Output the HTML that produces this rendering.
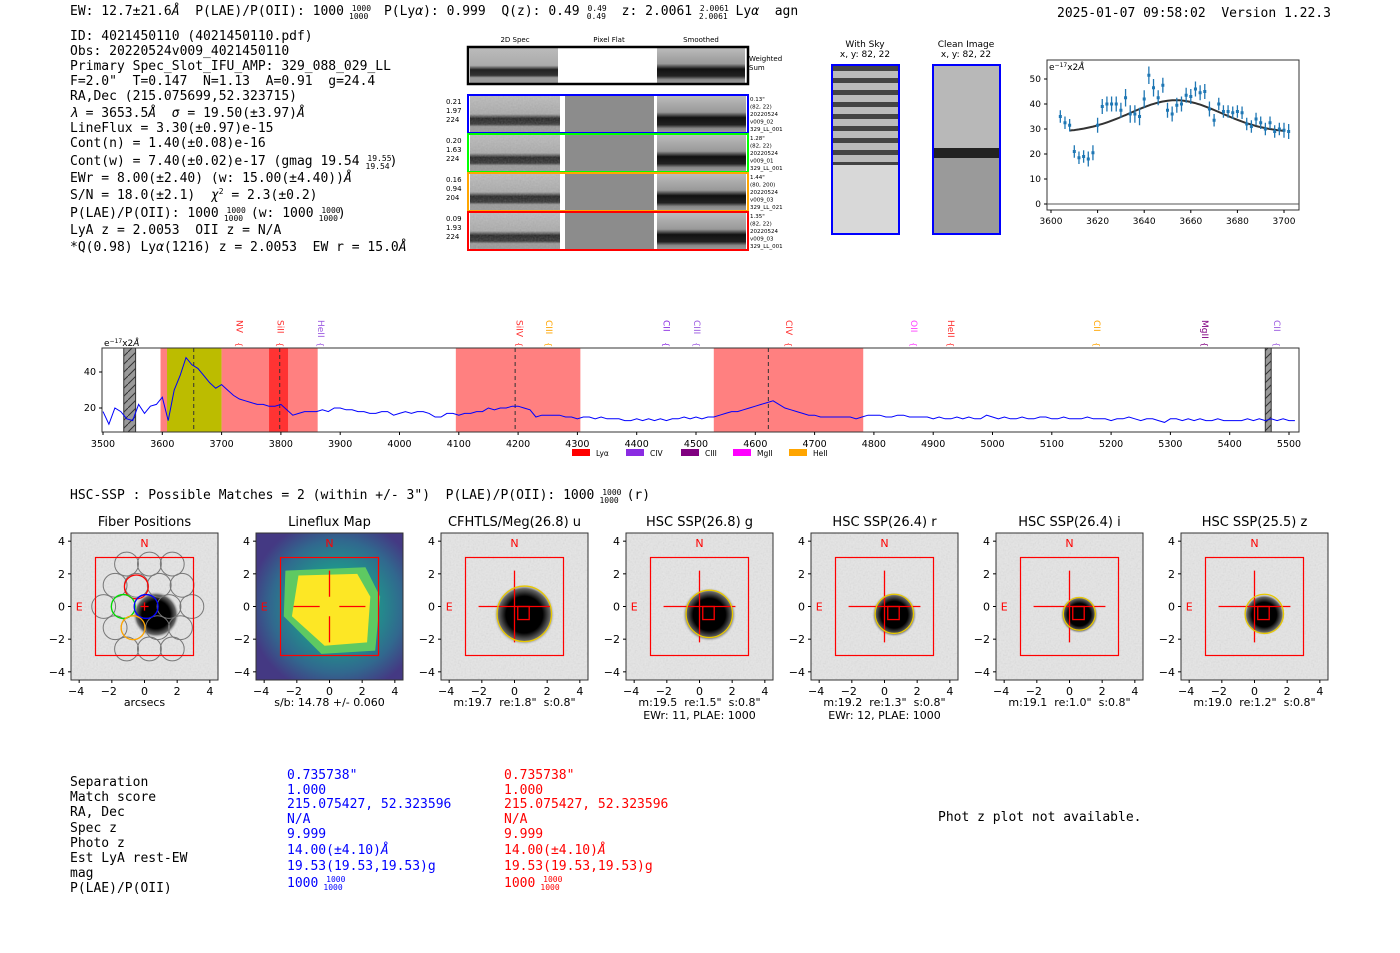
<!DOCTYPE html>
<html><head><meta charset="utf-8"><style>
html,body{margin:0;padding:0;background:#fff;}
svg{display:block;font-family:"DejaVu Sans","Liberation Sans",sans-serif;}
text{white-space:pre;}
.mono{font-family:"DejaVu Sans Mono","Liberation Mono",monospace;font-size:13px;}
</style></head><body>
<svg id="root" width="1400" height="953" viewBox="0 0 1400 953" xmlns="http://www.w3.org/2000/svg" xml:space="preserve">
<defs>
<linearGradient id="band" x1="0" y1="0" x2="0" y2="1">
<stop offset="0" stop-color="#bbb"/><stop offset="0.5" stop-color="#aaa"/><stop offset="0.62" stop-color="#222"/><stop offset="0.78" stop-color="#333"/><stop offset="0.85" stop-color="#999"/><stop offset="1" stop-color="#999"/></linearGradient>
<linearGradient id="bandS" x1="0" y1="0" x2="0" y2="1">
<stop offset="0" stop-color="#bbb"/><stop offset="0.45" stop-color="#999"/><stop offset="0.6" stop-color="#111"/><stop offset="0.8" stop-color="#222"/><stop offset="0.9" stop-color="#888"/><stop offset="1" stop-color="#999"/></linearGradient>
<pattern id="hatch" width="8" height="8" patternUnits="userSpaceOnUse"><rect width="8" height="8" fill="#999"/><path d="M0 8 L8 0" stroke="#333" stroke-width="1"/></pattern>
<pattern id="stripes" width="10" height="12" patternUnits="userSpaceOnUse"><rect width="10" height="12" fill="#bbb"/><rect y="6" width="10" height="5" fill="#444"/></pattern>
<radialGradient id="blob"><stop offset="0" stop-color="#000"/><stop offset="0.6" stop-color="#000"/><stop offset="0.85" stop-color="#666"/><stop offset="1" stop-color="#ddd" stop-opacity="0"/></radialGradient>
<radialGradient id="vir" cx="0.55" cy="0.5" r="0.6"><stop offset="0" stop-color="#35b779"/><stop offset="0.45" stop-color="#21918c"/><stop offset="0.75" stop-color="#31688e"/><stop offset="1" stop-color="#443983"/></radialGradient>
<filter id="grain" x="0" y="0" width="1" height="1"><feTurbulence type="fractalNoise" baseFrequency="0.6" numOctaves="1" result="n"/><feColorMatrix type="saturate" values="0"/><feComponentTransfer><feFuncA type="linear" slope="0.25"/></feComponentTransfer></filter>
</defs>

<text class="mono" x="70" y="15">EW: 12.7±21.6<tspan font-style="italic">Å</tspan>  P(LAE)/P(OII): 1000 <tspan font-size="8" dy="-4">1000</tspan><tspan font-size="8" dx="-22" dy="8">1000</tspan><tspan dy="-4">  P(Ly</tspan><tspan font-style="italic">α</tspan>): 0.999  Q(z): 0.49 <tspan font-size="8" dy="-4">0.49</tspan><tspan font-size="8" dx="-20" dy="8">0.49</tspan><tspan dy="-4">  z: 2.0061 </tspan><tspan font-size="8" dy="-4">2.0061</tspan><tspan font-size="8" dx="-30" dy="8">2.0061</tspan><tspan dy="-4"> Ly</tspan><tspan font-style="italic">α</tspan>  agn</text>
<text class="mono" x="1057" y="17">2025-01-07 09:58:02  Version 1.22.3</text>

<g class="mono">
<text x="70" y="40">ID: 4021450110 (4021450110.pdf)</text>
<text x="70" y="55">Obs: 20220524v009_4021450110</text>
<text x="70" y="70">Primary Spec_Slot_IFU_AMP: 329_088_029_LL</text>
<text x="70" y="85">F=2.0"  T=0.147  N=1.13  A=0.91  g=24.4</text>
<text x="70" y="100">RA,Dec (215.075699,52.323715)</text>
<text x="70" y="117"><tspan font-style="italic">λ</tspan> = 3653.5<tspan font-style="italic">Å</tspan>  <tspan font-style="italic">σ</tspan> = 19.50(±3.97)<tspan font-style="italic">Å</tspan></text>
<text x="70" y="132">LineFlux = 3.30(±0.97)e-15</text>
<text x="70" y="147">Cont(n) = 1.40(±0.08)e-16</text>
<text x="70" y="165">Cont(w) = 7.40(±0.02)e-17 (gmag 19.54 <tspan font-size="8" dy="-4">19.55</tspan><tspan font-size="8" dx="-26" dy="8">19.54</tspan><tspan dy="-4">)</tspan></text>
<text x="70" y="182">EWr = 8.00(±2.40) (w: 15.00(±4.40))<tspan font-style="italic">Å</tspan></text>
<text x="70" y="199">S/N = 18.0(±2.1)  <tspan font-style="italic">χ</tspan><tspan font-size="8" dy="-5">2</tspan><tspan dy="5"> = 2.3(±0.2)</tspan></text>
<text x="70" y="217">P(LAE)/P(OII): 1000 <tspan font-size="8" dy="-4">1000</tspan><tspan font-size="8" dx="-22" dy="8">1000</tspan><tspan dy="-4"> (w: 1000 </tspan><tspan font-size="8" dy="-4">1000</tspan><tspan font-size="8" dx="-22" dy="8">1000</tspan><tspan dy="-4">)</tspan></text>
<text x="70" y="234">LyA z = 2.0053  OII z = N/A</text>
<text x="70" y="251">*Q(0.98) Ly<tspan font-style="italic">α</tspan>(1216) z = 2.0053  EW r = 15.0<tspan font-style="italic">Å</tspan></text>
</g>

<g font-size="7">
<text x="515" y="42" text-anchor="middle">2D Spec</text>
<text x="609" y="42" text-anchor="middle">Pixel Flat</text>
<text x="701" y="42" text-anchor="middle">Smoothed</text>
<g>
<rect x="470" y="48" width="88" height="35" fill="url(#band)"/>
<rect x="657" y="48" width="88" height="35" fill="url(#bandS)"/>
<rect x="468" y="47" width="280" height="37" fill="none" stroke="#000" stroke-width="2.5"/>
<text x="749" y="61">Weighted</text><text x="749" y="70">Sum</text>
</g>
</g>
<g id="spec-rows"></g>

<g font-size="9">
<text x="865" y="47" text-anchor="middle">With Sky</text>
<text x="865" y="57" text-anchor="middle">x, y: 82, 22</text>
<rect x="832" y="65" width="67" height="100" fill="url(#stripes)"/>
<rect x="832" y="165" width="67" height="69" fill="#d8d8d8"/>
<rect x="832" y="65" width="67" height="169" fill="none" stroke="#00f" stroke-width="2"/>
<text x="966" y="47" text-anchor="middle">Clean Image</text>
<text x="966" y="57" text-anchor="middle">x, y: 82, 22</text>
<rect x="933" y="65" width="67" height="85" fill="#b8b8b8"/>
<rect x="933" y="148" width="67" height="10" fill="#222"/>
<rect x="933" y="158" width="67" height="76" fill="#9a9a9a"/>
<rect x="933" y="65" width="67" height="169" fill="none" stroke="#00f" stroke-width="2"/>
</g>

<g id="fitchart"></g>
<g id="specchart"></g>

<text class="mono" x="70" y="499">HSC-SSP : Possible Matches = 2 (within +/- 3")  P(LAE)/P(OII): 1000 <tspan font-size="8" dy="-4">1000</tspan><tspan font-size="8" dx="-22" dy="8">1000</tspan><tspan dy="-4"> (r)</tspan></text>

<g id="cutouts"></g>

<g class="mono">
<text x="70" y="786">Separation</text><text x="70" y="801">Match score</text><text x="70" y="816">RA, Dec</text><text x="70" y="832">Spec z</text><text x="70" y="847">Photo z</text><text x="70" y="862">Est LyA rest-EW</text><text x="70" y="877">mag</text><text x="70" y="892">P(LAE)/P(OII)</text>
<g fill="#0000ff">
<text x="287" y="779">0.735738"</text><text x="287" y="794">1.000</text><text x="287" y="808">215.075427, 52.323596</text><text x="287" y="823">N/A</text><text x="287" y="838">9.999</text><text x="287" y="854">14.00(±4.10)<tspan font-style="italic">Å</tspan></text><text x="287" y="870">19.53(19.53,19.53)g</text><text x="287" y="887">1000 <tspan font-size="8" dy="-5">1000</tspan><tspan font-size="8" dx="-22" dy="8">1000</tspan></text>
</g>
<g fill="#ff0000">
<text x="504" y="779">0.735738"</text><text x="504" y="794">1.000</text><text x="504" y="808">215.075427, 52.323596</text><text x="504" y="823">N/A</text><text x="504" y="838">9.999</text><text x="504" y="854">14.00(±4.10)<tspan font-style="italic">Å</tspan></text><text x="504" y="870">19.53(19.53,19.53)g</text><text x="504" y="887">1000 <tspan font-size="8" dy="-5">1000</tspan><tspan font-size="8" dx="-22" dy="8">1000</tspan></text>
</g>
<text x="938" y="821">Phot z plot not available.</text>
</g>
</svg>
<script>
var NS='http://www.w3.org/2000/svg';
function mk(tag,at,parent){var e=document.createElementNS(NS,tag);for(var k in at)e.setAttribute(k,at[k]);if(parent)parent.appendChild(e);return e;}

var fitWave=[3604,3606,3608,3610,3612,3614,3616,3618,3620,3622,3624,3626,3628,3630,3632,3634,3636,3638,3640,3642,3644,3646,3648,3650,3652,3654,3656,3658,3660,3662,3664,3666,3668,3670,3672,3674,3676,3678,3680,3682,3684,3686,3688,3690,3692,3694,3696,3698,3700,3702];
var fitFlux=[35,32.5,31.5,21,18.5,19,18,20.5,31.5,39,40,40,40,37.5,42.5,36,36,35,42,51.5,46.5,42.5,47.5,37.5,36,39.5,40,43.5,43,46,44.5,45,38,33.5,40,37,37,36.5,37,36.5,32,31,34,32.5,30,32.5,29,30,29.5,29];
var fitErr=[2.5,2.5,2.5,2.5,2.5,2.5,3,3,3,3,3,3,3,3,3.5,3.5,3.5,3.5,3.5,3.5,3.5,3,3,3,3,3,3,3,3,3,3,3,3,2.5,2.5,2.5,2.5,2.5,2.5,2.5,2.5,2.5,2.5,2.5,2.5,2.5,2.5,2.5,3,3];
var fitModel={cont:28.5,amp:13,mu:3653.5,sigma:19.5};
var fitXTicks=[3600,3620,3640,3660,3680,3700];
var fitYTicks=[0,10,20,30,40,50];

var specStart=3500, specStep=10;
var specFlux=[18,11,20,18,14,13,22,17,21,22,
26,13,30,38,48,44,42,38,34,31,
33,30,27,25,24,23,22,22,21,21,
22,19,16,17,18,18,18,19,18,20,
20,19,19,18,18,17,17,18,18,16,
17,18,17,18,18,17,15,15,17,17,
16,17,17,18,18,20,19,20,20,21,
21,20,19,15,16,16,16,16,15,15,
14,15,15,14,15,14,14,14,13,13,
14,13,14,13,14,13,14,14,15,14,
15,14,15,15,16,17,18,18,19,20,
21,22,23,24,22,20,19,18,17,16,
16,15,15,15,15,15,15,14,15,16,
16,16,15,15,16,16,15,15,15,15,
14,15,14,14,15,14,15,14,14,16,
15,14,15,14,14,15,14,14,15,15,
14,14,15,14,14,14,15,14,14,14,
13,14,14,15,14,13,14,14,13,12,
14,14,13,14,13,14,13,13,14,13,
13,13,13,14,13,14,13,14,13,14,13,13,13];
var specXTicks=[3500,3600,3700,3800,3900,4000,4100,4200,4300,4400,4500,4600,4700,4800,4900,5000,5100,5200,5300,5400,5500];
var specYTicks=[20,40];
var bandStart=[3535,3597,3608,3700,3780,4095,4530,5460];
var bandEnd=[3555,3700,3700,3862,3812,4305,4782,5470];
var bandKind=['mask','lya','fit','lya','line','lya','lya','mask'];
var dashWave=[3653,3798,4195,4622];
var lineName=['NV','SiII','HeII','SiIV','CIII','CII','CIII','CIV','OII','HeII','CII','MgII','CII'];
var lineWave=[3730,3799,3868,4202,4252,4450,4502,4657,4868,4930,5176,5358,5480];
var lineColor=['#ff3030','#ff3030','#9b59e0','#ff3030','#ffa500','#8a2be2','#9b59e0','#ff3030','#ff40ff','#ff3030','#ffa500','#800080','#9b59e0'];
var legendName=['Lyα','CIV','CIII','MgII','HeII'];
var legendColor=['#ff0000','#8a2be2','#800080','#ff00ff','#ffa500'];

var rowColor=['#0000ff','#00ff00','#ffa500','#ff0000'];
var rowLeft=[['0.21','1.97','224'],['0.20','1.63','224'],['0.16','0.94','204'],['0.09','1.93','224']];
var rowRight=[['0.13"','(82, 22)','20220524','v009_02','329_LL_001'],['1.28"','(82, 22)','20220524','v009_01','329_LL_001'],['1.44"','(80, 200)','20220524','v009_03','329_LL_021'],['1.35"','(82, 22)','20220524','v009_03','329_LL_001']];
var sr=document.getElementById('spec-rows');
for(var i=0;i<4;i++){
  var y=96+i*39;
  var g=mk('g',{},sr);
  
  
  mk('rect',{x:470,y:y,width:90,height:36,fill:'url(#band)'},g);
  mk('rect',{x:470,y:y,width:90,height:36,fill:'#fff',filter:'url(#grain)'},g);
  mk('rect',{x:565,y:y,width:89,height:36,fill:'#8c8c8c'},g);
  mk('rect',{x:657,y:y,width:89,height:36,fill:'url(#bandS)'},g);
  mk('rect',{x:468,y:y-1,width:280,height:38,fill:'none',stroke:rowColor[i],'stroke-width':2},g);
  for(var j=0;j<3;j++){var t=mk('text',{x:446,y:y+8+j*9,'font-size':7},g);t.textContent=rowLeft[i][j];}
  for(var j=0;j<5;j++){var t=mk('text',{x:750,y:y+5+j*7.5,'font-size':5.5},g);t.textContent=rowRight[i][j];}
}

(function(){
 var G=document.getElementById('fitchart');
 var L=1047,R=1299,T=60,B=210;
 function fx(w){return 1051+(w-3600)*2.33;}
 function fy(v){return 204-v*2.5;}
 mk('rect',{x:L,y:T,width:R-L,height:B-T,fill:'#fff',stroke:'#333','stroke-width':1},G);
 var z=mk('line',{x1:L,x2:R,y1:fy(0),y2:fy(0),stroke:'#555','stroke-width':1},G);
 
 fitXTicks.forEach(function(v){mk('line',{x1:fx(v),x2:fx(v),y1:B,y2:B+3,stroke:'#000'},G);var t=mk('text',{x:fx(v),y:B+14,'font-size':9,'text-anchor':'middle'},G);t.textContent=v;
  });
 fitYTicks.forEach(function(v){mk('line',{x1:L-3,x2:L,y1:fy(v),y2:fy(v),stroke:'#000'},G);var t=mk('text',{x:L-6,y:fy(v)+3,'font-size':9,'text-anchor':'end'},G);t.textContent=v;
  });
 var u=mk('text',{x:L+2,y:T+10,'font-size':9},G);u.innerHTML='e<tspan font-size="6" dy="-3">−17</tspan><tspan dy="3">x2</tspan><tspan font-style="italic">Å</tspan>';
 
 var pts=[];for(var w=3608;w<=3700;w+=1){var m=fitModel.cont+fitModel.amp*Math.exp(-Math.pow(w-fitModel.mu,2)/(2*fitModel.sigma*fitModel.sigma));pts.push(fx(w).toFixed(1)+','+fy(m).toFixed(1));}
 var p=mk('polyline',{points:pts.join(' '),fill:'none',stroke:'#333','stroke-width':2},G);
 
 for(var i=0;i<fitWave.length;i++){
  var e=mk('line',{x1:fx(fitWave[i]),x2:fx(fitWave[i]),y1:fy(fitFlux[i]-fitErr[i]),y2:fy(fitFlux[i]+fitErr[i]),stroke:'#1f77b4','stroke-width':1.3},G);
  
  var c=mk('rect',{x:fx(fitWave[i])-1.5,y:fy(fitFlux[i])-1.5,width:3,height:3,fill:'#1f77b4'},G);
  
 }
})();

(function(){
 var G=document.getElementById('specchart');
 var L=102,R=1299,T=348,B=432;
 function sx(w){return 103+(w-3500)*0.593;}
 function sy(v){return 444-v*1.8;}
 mk('rect',{x:L,y:T,width:R-L,height:B-T,fill:'#fff'},G);
 var fills={mask:'url(#hatch)',lya:'#ff8080',fit:'#bcbc00',line:'#ff3333'};
 for(var i=0;i<bandStart.length;i++){
  var r=mk('rect',{x:sx(bandStart[i]),y:T,width:sx(bandEnd[i])-sx(bandStart[i]),height:B-T,fill:fills[bandKind[i]],stroke:bandKind[i]=='mask'?'#333':'none'},G);
  
 }
 dashWave.forEach(function(w){var d=mk('line',{x1:sx(w),x2:sx(w),y1:T,y2:B,stroke:'#333','stroke-dasharray':'4,3','stroke-width':1},G);
  });
 var pts=[];for(var i=0;i<specFlux.length;i++){var w=specStart+i*specStep;if(w>5517)break;pts.push(sx(w).toFixed(1)+','+Math.max(T,Math.min(B,sy(specFlux[i]))).toFixed(1));}
 var p=mk('polyline',{points:pts.join(' '),fill:'none',stroke:'#0000ff','stroke-width':1},G);
 
 mk('rect',{x:L,y:T,width:R-L,height:B-T,fill:'none',stroke:'#333'},G);
 specXTicks.forEach(function(v){mk('line',{x1:sx(v),x2:sx(v),y1:B,y2:B+3,stroke:'#000'},G);var t=mk('text',{x:sx(v),y:B+15,'font-size':9.5,'text-anchor':'middle'},G);t.textContent=v;
  });
 specYTicks.forEach(function(v){mk('line',{x1:L-3,x2:L,y1:sy(v),y2:sy(v),stroke:'#000'},G);var t=mk('text',{x:L-6,y:sy(v)+3,'font-size':9.5,'text-anchor':'end'},G);t.textContent=v;
  });
 var u=mk('text',{x:104,y:346,'font-size':9},G);u.innerHTML='e<tspan font-size="6" dy="-3">−17</tspan><tspan dy="3">x2</tspan><tspan font-style="italic">Å</tspan>';
 
 for(var i=0;i<lineName.length;i++){
  var x=sx(lineWave[i]);
  var t=mk('text',{x:0,y:0,'font-size':9,fill:lineColor[i],transform:'translate('+(x-3)+',320) rotate(90)'},G);t.textContent=lineName[i];
  
  var b=mk('text',{x:0,y:0,'font-size':8,fill:lineColor[i],transform:'translate('+(x-3)+',342) rotate(90)'},G);b.textContent='{';
  
 }
 var lx=[572,626,681,733,789];
 for(var i=0;i<legendName.length;i++){
  var s=mk('rect',{x:lx[i],y:449,width:18,height:7,fill:legendColor[i]},G);
  
  var t=mk('text',{x:lx[i]+24,y:456,'font-size':7.5},G);t.textContent=legendName[i];
  
 }
})();

var cutTitle=['Fiber Positions','Lineflux Map','CFHTLS/Meg(26.8) u','HSC SSP(26.8) g','HSC SSP(26.4) r','HSC SSP(26.4) i','HSC SSP(25.5) z'];
var cutSub1=['arcsecs','s/b: 14.78 +/- 0.060','m:19.7  re:1.8"  s:0.8"','m:19.5  re:1.5"  s:0.8"','m:19.2  re:1.3"  s:0.8"','m:19.1  re:1.0"  s:0.8"','m:19.0  re:1.2"  s:0.8"'];
var cutSub2=['','','','EWr: 11, PLAE: 1000','EWr: 12, PLAE: 1000','',''];
var blobR=[1.3,0,1.7,1.5,1.25,1.05,1.15];
var ellR=[0,0,1.7,1.45,1.2,1.0,1.2];
var cutTicks=[-4,-2,0,2,4];
var fiberX=[-1.1,0.3,1.7,-1.8,-0.5,0.9,2.3,-2.5,-1.3,0.1,1.5,2.9,-1.8,-0.7,0.8,2.2,-1.1,0.3,1.7];
var fiberY=[2.6,2.6,2.6,1.3,1.3,1.3,1.3,0,0,0,0,0,-1.3,-1.3,-1.3,-1.3,-2.6,-2.6,-2.6];
(function(){
 var C=document.getElementById('cutouts');
 for(var p=0;p<7;p++){
  var L=71+p*185, T=533, W=147, H=147;
  var g=mk('g',{},C);
  
  
  var cx=L+W/2, cy=T+H/2, s=W/9;
  function X(v){return cx+v*s;} function Y(v){return cy-v*s;}
  if(p==1){
   mk('rect',{x:L,y:T,width:W,height:H,fill:'url(#vir)'},g);
   var poly=[[-2.7,2.2],[2.2,2.4],[3.1,0.6],[2.8,-2.7],[-0.5,-2.9],[-2.8,-0.6]];
   mk('polygon',{points:poly.map(function(q){return X(q[0])+','+Y(q[1]);}).join(' '),fill:'#5ec962'},g);
   var poly2=[[-1.9,1.9],[1.7,2.0],[2.5,0.6],[2.3,-2.2],[-0.3,-2.4],[-2.3,-0.6]];
   var yp=mk('polygon',{points:poly2.map(function(q){return X(q[0])+','+Y(q[1]);}).join(' '),fill:'#fde725'},g);
   
  } else {
   mk('rect',{x:L,y:T,width:W,height:H,fill:'#e6e6e6'},g);
   mk('rect',{x:L,y:T,width:W,height:H,fill:'#fff',filter:'url(#grain)'},g);
   var bl=mk('circle',{cx:X(p==0?0.7:0.6),cy:Y(-0.5),r:blobR[p]*s*1.1,fill:'url(#blob)'},g);
   
  }
  mk('rect',{x:L,y:T,width:W,height:H,fill:'none',stroke:'#333'},g);
  if(p==0){
   for(var f=0;f<fiberX.length;f++){var c=mk('circle',{cx:X(fiberX[f]),cy:Y(fiberY[f]),r:0.73*s,fill:'none',stroke:'#777','stroke-width':1},g);
    }
   var hl=[[-0.5,1.2,'#ff0000'],[-1.3,0,'#00dd00'],[0.1,0,'#0000ff'],[-0.7,-1.3,'#ffa500']];
   hl.forEach(function(q){var c=mk('circle',{cx:X(q[0]),cy:Y(q[1]),r:0.73*s,fill:'none',stroke:q[2],'stroke-width':1.3},g);
    });
   mk('path',{d:'M'+X(-0.25)+' '+Y(0)+'H'+X(0.25)+'M'+X(0)+' '+Y(0.25)+'V'+Y(-0.25),stroke:'#f00','stroke-width':1.3},g);
  } else if(p==1){
   mk('path',{d:'M'+X(-2.2)+' '+Y(0)+'H'+X(-0.6)+'M'+X(0.6)+' '+Y(0)+'H'+X(2.2)+'M'+X(0)+' '+Y(2.2)+'V'+Y(0.6)+'M'+X(0)+' '+Y(-0.6)+'V'+Y(-2.2),stroke:'#f00','stroke-width':1.3},g);
  } else {
   mk('path',{d:'M'+X(-2.2)+' '+Y(0)+'H'+X(2.2)+'M'+X(0)+' '+Y(2.2)+'V'+Y(-2.2),stroke:'#f00','stroke-width':1.3},g);
   var el=mk('ellipse',{cx:X(0.6),cy:Y(-0.45),rx:ellR[p]*s*0.98,ry:ellR[p]*s,fill:'none',stroke:'#e8c800','stroke-width':1.3},g);
   
   mk('rect',{x:X(0.2),y:Y(0),width:0.7*s,height:0.8*s,fill:'none',stroke:'#f00','stroke-width':1.3},g);
  }
  var bx=mk('rect',{x:X(-3),y:Y(3),width:6*s,height:6*s,fill:'none',stroke:'#f00','stroke-width':1.2},g);
  
  var n=mk('text',{x:X(0),y:Y(3.9)+4,'font-size':11,fill:'#f00','text-anchor':'middle'},g);n.textContent='N';
  
  var e=mk('text',{x:X(-4),y:Y(0)+4,'font-size':11,fill:'#f00','text-anchor':'middle'},g);e.textContent='E';
  
  cutTicks.forEach(function(v){
   mk('line',{x1:X(v),x2:X(v),y1:T+H,y2:T+H+3,stroke:'#000'},g);
   var t=mk('text',{x:X(v)-(v<0?3:0),y:T+H+15,'font-size':11,'text-anchor':'middle'},g);t.textContent=(v<0?'−':'')+Math.abs(v);
   
   mk('line',{x1:L-3,x2:L,y1:Y(v),y2:Y(v),stroke:'#000'},g);
   var u=mk('text',{x:L-6,y:Y(v)+4,'font-size':11,'text-anchor':'end'},g);u.textContent=(v<0?'−':'')+Math.abs(v);
   
  });
  var tt=mk('text',{x:cx,y:526,'font-size':13,'text-anchor':'middle'},g);tt.textContent=cutTitle[p];
  
  var s1=mk('text',{x:cx,y:706,'font-size':11,'text-anchor':'middle'},g);s1.textContent=cutSub1[p];
  
  if(cutSub2[p]){var s2=mk('text',{x:cx,y:719,'font-size':11,'text-anchor':'middle'},g);s2.textContent=cutSub2[p];
   }
 }
})();
</script>
</body></html>
